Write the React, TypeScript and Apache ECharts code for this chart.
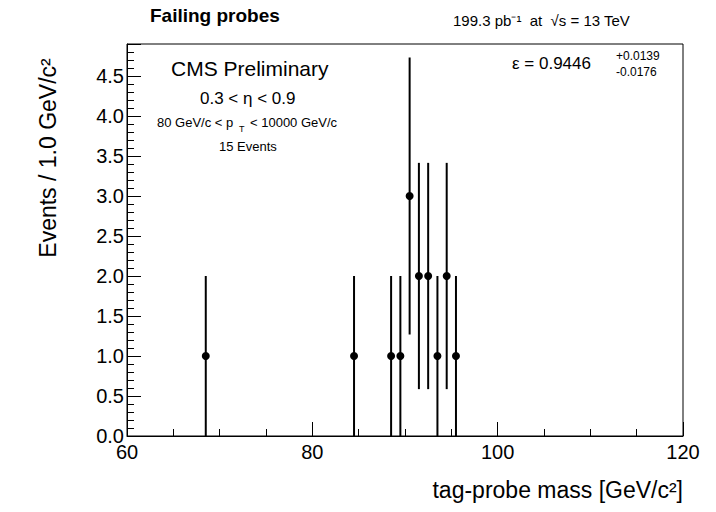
import { useRef, useEffect } from 'react';
import * as echarts from 'echarts';

const massValues = [68.5, 84.5, 88.5, 89.5, 90.5, 91.5, 92.5, 93.5, 94.5, 95.5];
const eventCounts = [1, 1, 1, 1, 3, 2, 2, 1, 2, 1];

const FONT = "'Liberation Sans', Arial, sans-serif";

export default function App() {
  const chartRef = useRef<HTMLDivElement>(null);

  useEffect(() => {
    if (!chartRef.current) return;
    const chart = echarts.init(chartRef.current, undefined, { renderer: 'svg' });

    const data = massValues.map((x, i) => [x, eventCounts[i], Math.sqrt(eventCounts[i])]);

    const axisCommon = {
      axisLine: { show: true, onZero: false, lineStyle: { color: '#000', width: 1 } },
      axisTick: { show: true, inside: true, length: 14, lineStyle: { color: '#000' } },
      splitLine: { show: false },
      axisLabel: { color: '#000', fontSize: 20, fontFamily: FONT },
    };

    const t = (left: number, top: number, text: string, font: string) => ({
      type: 'text', left: left - 8, top: top - 8, style: { text, font: `${font} ${FONT}`, fill: '#000' },
    });

    chart.setOption({
      animation: false,
      grid: { left: 119, right: 25, top: 36, bottom: 68, show: true, borderColor: '#000', borderWidth: 1 },
      xAxis: {
        type: 'value', min: 60, max: 120, interval: 20,
        ...axisCommon,
        minorTick: { show: true, splitNumber: 4, length: 7, lineStyle: { color: '#000' } },
        axisLabel: { ...axisCommon.axisLabel, margin: 6 },
      },
      yAxis: {
        type: 'value', min: 0, max: 4.9, interval: 0.5,
        ...axisCommon,
        minorTick: { show: true, splitNumber: 5, length: 7, lineStyle: { color: '#000' } },
        axisLabel: {
          ...axisCommon.axisLabel, margin: 3,
          formatter: (v: number) => (Math.abs(v * 2 - Math.round(v * 2)) < 1e-6 ? v.toFixed(1) : ''),
        },
      },
      series: [
        {
          type: 'custom',
          data,
          renderItem: (params: any, api: any) => {
            const x = api.value(0);
            const y = api.value(1);
            const e = api.value(2);
            const p = api.coord([x, y]);
            const top = api.coord([x, y + e]);
            const bot = api.coord([x, Math.max(0, y - e)]);
            return {
              type: 'group',
              children: [
                { type: 'line', shape: { x1: p[0], y1: top[1], x2: p[0], y2: bot[1] }, style: { stroke: '#000', lineWidth: 2 } },
                { type: 'circle', shape: { cx: p[0], cy: p[1], r: 4 }, style: { fill: '#000' } },
              ],
            };
          },
        },
      ],
      graphic: [
        t(150, 6, 'Failing probes', 'bold 19px'),
        t(453, 13, '199.3 pb⁻¹  at  √s = 13 TeV', '15px'),
        t(171, 58, 'CMS Preliminary', '21px'),
        t(200, 90, '0.3 < η < 0.9', '17px'),
        t(157, 116, '80 GeV/c < p', '13px'),
        t(239, 124, 'T', '9px'),
        t(250, 116, '< 10000 GeV/c', '13px'),
        t(219, 140, '15 Events', '13px'),
        t(512, 55, 'ε = 0.9446', '17px'),
        t(616, 50, '+0.0139', '12px'),
        t(616, 66, '-0.0176', '12px'),
        { type: 'text', right: 25, top: 470, style: { text: 'tag-probe mass [GeV/c²]', font: `23px ${FONT}`, fill: '#000' } },
        {
          type: 'text', x: 28, y: 150, rotation: Math.PI / 2,
          style: { text: 'Events / 1.0 GeV/c²', font: `23px ${FONT}`, fill: '#000', align: 'center', verticalAlign: 'top' },
        },
      ],
    });

    return () => chart.dispose();
  }, []);

  return <div ref={chartRef} style={{ width: 700, height: 496 }} />;
}
